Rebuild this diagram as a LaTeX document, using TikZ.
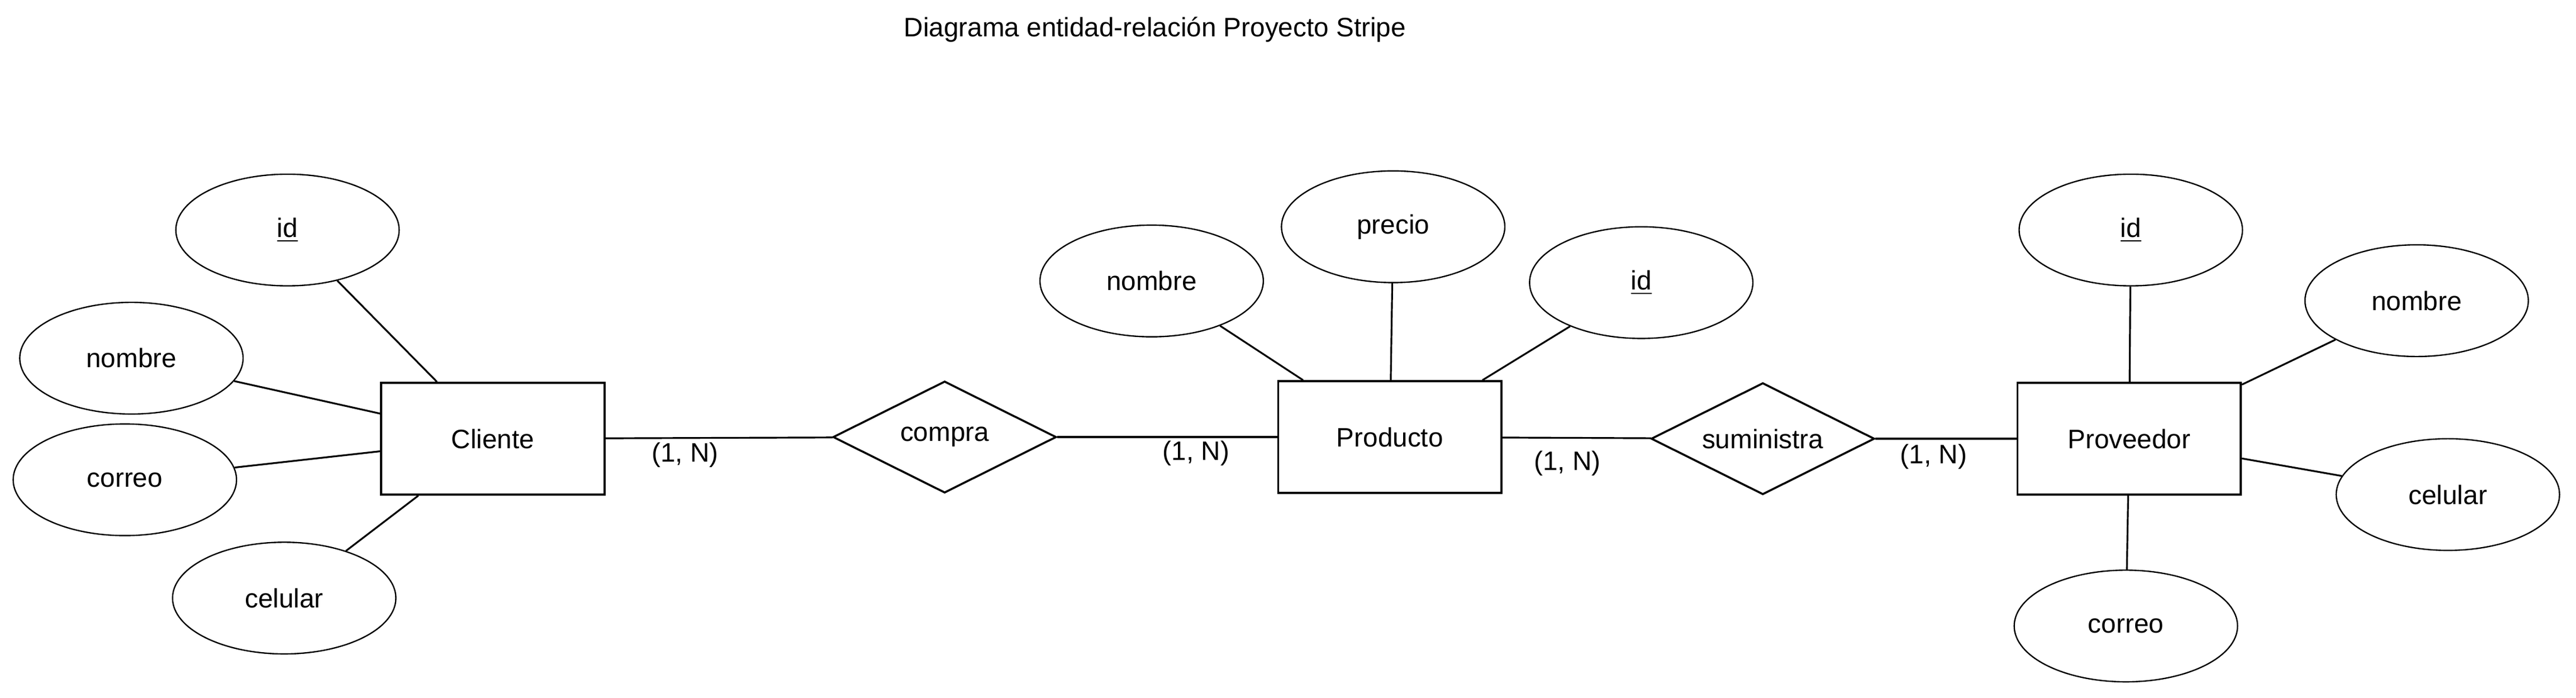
\documentclass[tikz,border=0pt]{standalone}
\usepackage{fontspec}
\setmainfont{Liberation Sans}
\usepackage{tikz}
\usetikzlibrary{shapes.geometric}

\tikzset{
  entidad/.style={draw,line width=0.95pt,rectangle,minimum width=100.6pt,minimum height=50.3pt,inner sep=0pt},
  atributo/.style={draw,line width=0.6pt,ellipse,minimum width=100.6pt,minimum height=50.3pt,inner sep=0pt},
  relacion/.style={draw,line width=0.9pt,diamond,shape aspect=2,minimum width=100.6pt,minimum height=50.3pt,inner sep=0pt},
  linea/.style={line width=0.8pt}
}

\begin{document}
\begin{tikzpicture}[x=0.74pt,y=-0.74pt,font=\fontsize{12}{14}\selectfont]
\useasboundingbox (0,0) rectangle (1568,424.5);
\node (titulo) at (703,18) {Diagrama entidad-relación Proyecto Stripe};
% entidades y relaciones
\node[entidad] (cliente) at (300,267) {Cliente};
\node[relacion] (compra) at (575,266) {compra};
\node[entidad] (producto) at (846,266) {Producto};
\node[relacion] (suministra) at (1073,267) {suministra};
\node[entidad] (proveedor) at (1296,267) {Proveedor};
% atributos de Cliente
\node[atributo] (cid) at (175,140) {\underline{id}};
\node[atributo] (cnombre) at (80,218) {nombre};
\node[atributo] (ccorreo) at (76,292) {correo};
\node[atributo] (ccelular) at (173,364) {celular};
% atributos de Producto
\node[atributo] (pnombre) at (701,171) {nombre};
\node[atributo] (pprecio) at (848,138) {precio};
\node[atributo] (pid) at (999,172) {\underline{id}};
% atributos de Proveedor
\node[atributo] (vid) at (1297,140) {\underline{id}};
\node[atributo] (vnombre) at (1471,183) {nombre};
\node[atributo] (vcelular) at (1490,301) {celular};
\node[atributo] (vcorreo) at (1294,381) {correo};
\draw[linea] (cliente) -- (cid);
\draw[linea] (cliente) -- (cnombre);
\draw[linea] (cliente) -- (ccorreo);
\draw[linea] (cliente) -- (ccelular);
\draw[linea] (producto) -- (pnombre);
\draw[linea] (producto) -- (pprecio);
\draw[linea] (producto) -- (pid);
\draw[linea] (proveedor) -- (vid);
\draw[linea] (proveedor) -- (vnombre);
\draw[linea] (proveedor) -- (vcelular);
\draw[linea] (proveedor) -- (vcorreo);
\draw[linea] (cliente) -- (compra);
\draw[linea] (compra) -- (producto);
\draw[linea] (producto) -- (suministra);
\draw[linea] (suministra) -- (proveedor);
% cardinalidades
\node (card1) at (417,277) {(1, N)};
\node (card2) at (728,276) {(1, N)};
\node (card3) at (954,282) {(1, N)};
\node (card4) at (1177,278) {(1, N)};
\end{tikzpicture}
\end{document}
